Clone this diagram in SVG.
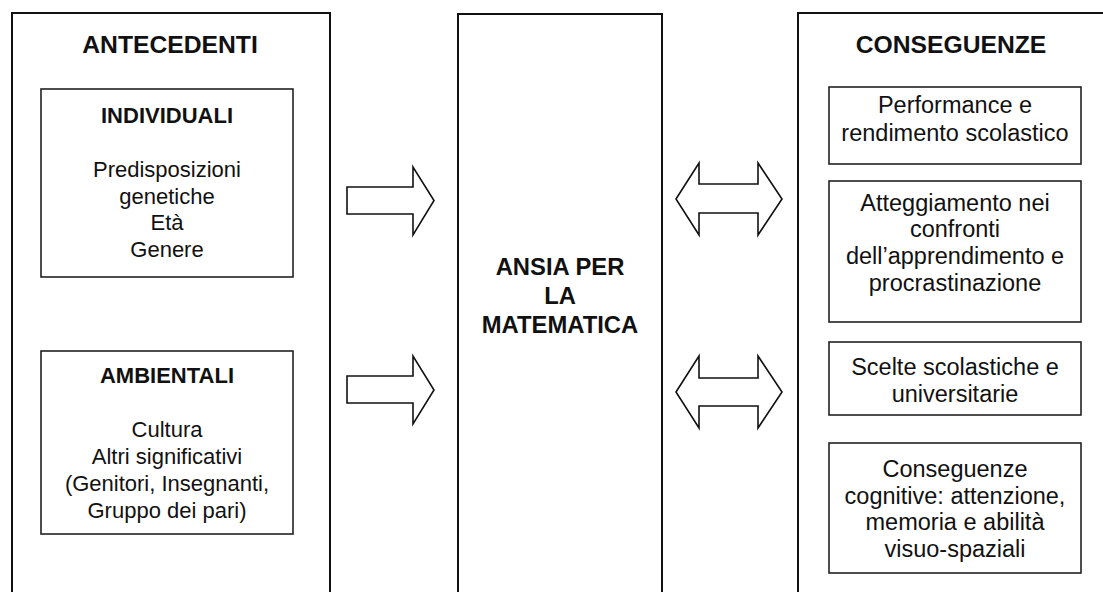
<svg xmlns="http://www.w3.org/2000/svg" width="1103" height="592" viewBox="0 0 1103 592">
<style>
  .outer { fill: #fff; stroke: #111; stroke-width: 2; }
  .inner { fill: #fff; stroke: #222; stroke-width: 1.6; }
  .arrow { fill: #fff; stroke: #111; stroke-width: 1.6; stroke-linejoin: miter; }
  text { font-family: "Liberation Sans", Arial, Helvetica, sans-serif; fill: #111; text-anchor: middle; }
  .h1 { font-size: 24.7px; font-weight: bold; }
  .hc { font-size: 23.8px; font-weight: bold; }
  .h2 { font-size: 22px; font-weight: bold; }
  .bl { font-size: 22px; }
  .br { font-size: 23.5px; }
</style>
<rect x="0" y="0" width="1103" height="592" fill="#fff"/>
<g id="antecedenti">
  <rect class="outer" x="12" y="13" width="318" height="600"/>
  <text class="h1" x="170" y="53">ANTECEDENTI</text>
</g>
<g id="individuali">
  <rect class="inner" x="41" y="89" width="252" height="188"/>
  <text class="h2" x="167" y="123">INDIVIDUALI</text>
  <text class="bl" x="167" y="177">Predisposizioni</text>
  <text class="bl" x="167" y="204">genetiche</text>
  <text class="bl" x="167" y="230">Età</text>
  <text class="bl" x="167" y="257">Genere</text>
</g>
<g id="ambientali">
  <rect class="inner" x="41" y="351" width="252" height="183"/>
  <text class="h2" x="167" y="383">AMBIENTALI</text>
  <text class="bl" x="167" y="437">Cultura</text>
  <text class="bl" x="167" y="464">Altri significativi</text>
  <text class="bl" x="167" y="491">(Genitori, Insegnanti,</text>
  <text class="bl" x="167" y="518">Gruppo dei pari)</text>
</g>
<g id="ansia">
  <rect class="outer" x="458" y="14" width="204" height="600"/>
  <text class="hc" x="560" y="275">ANSIA PER</text>
  <text class="hc" x="560" y="304">LA</text>
  <text class="hc" x="560" y="333">MATEMATICA</text>
</g>
<g id="conseguenze">
  <rect class="outer" x="798" y="13" width="320" height="600"/>
  <text class="h1" x="951" y="53">CONSEGUENZE</text>
</g>
<g id="performance">
  <rect class="inner" x="829" y="87" width="252" height="77"/>
  <text class="br" x="955" y="113">Performance e</text>
  <text class="br" x="955" y="141">rendimento scolastico</text>
</g>
<g id="atteggiamento">
  <rect class="inner" x="829" y="181" width="252" height="141"/>
  <text class="br" x="955" y="211">Atteggiamento nei</text>
  <text class="br" x="955" y="237">confronti</text>
  <text class="br" x="955" y="264">dell’apprendimento e</text>
  <text class="br" x="955" y="291">procrastinazione</text>
</g>
<g id="scelte">
  <rect class="inner" x="829" y="342" width="252" height="73"/>
  <text class="br" x="955" y="375">Scelte scolastiche e</text>
  <text class="br" x="955" y="402">universitarie</text>
</g>
<g id="cognitive">
  <rect class="inner" x="829" y="443" width="252" height="130"/>
  <text class="br" x="955" y="477">Conseguenze</text>
  <text class="br" x="955" y="504">cognitive: attenzione,</text>
  <text class="br" x="955" y="530">memoria e abilità</text>
  <text class="br" x="955" y="557">visuo-spaziali</text>
</g>
<g id="connectors">
  <polygon class="arrow" points="347,187 413,187 413,167 434,200.5 413,235 413,214 347,214"/>
  <polygon class="arrow" points="347,376 413,376 413,356 434,390 413,424 413,403 347,403"/>
  <polygon class="arrow" points="676,199 699,163 699,184 758,184 758,163 782,199 758,235 758,213 699,213 699,235"/>
  <polygon class="arrow" points="676,392 699,356 699,378 758,378 758,356 782,392 758,428 758,406 699,406 699,428"/>
</g>
</svg>
